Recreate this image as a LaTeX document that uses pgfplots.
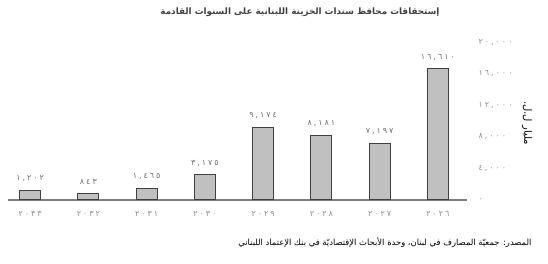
\documentclass[border=0pt]{standalone}
\usepackage{fontspec}
\usepackage{pgfplots}
\pgfplotsset{compat=1.18}
\usepackage{pgfplotstable}
\TeXXeTstate=1
\setmainfont{DejaVu Sans}
\newfontfamily\arabicfont[Script=Arabic]{DejaVu Sans}
\newfontfamily\digitfont[LetterSpace=25]{DejaVu Sans}
\definecolor{barfill}{HTML}{C0C0C0}
\definecolor{baredge}{HTML}{404040}
\definecolor{axisgray}{HTML}{808080}
\definecolor{labgray}{HTML}{707070}
\definecolor{ticklab}{HTML}{909090}

\pgfplotstableread{
x y lab
0 1202 ١,٢٠٢
1 843 ٨٤٣
2 1465 ١,٤٦٥
3 3175 ٣,١٧٥
4 9174 ٩,١٧٤
5 8181 ٨,١٨١
6 7197 ٧,١٩٧
7 16610 ١٦,٦١٠
}\datatable

\begin{document}
\begin{tikzpicture}
\useasboundingbox (0pt,0pt) rectangle (548pt,264pt);
\begin{axis}[
  at={(8pt,64pt)}, anchor=south west,
  scale only axis, width=459pt, height=158pt,
  xmin=-0.38, xmax=7.5, ymin=0, ymax=20000,
  axis x line=bottom, axis y line=right,
  x axis line style={draw=axisgray, line width=2pt, -},
  y axis line style={draw=none},
  major tick length=0pt,
  xtick={0,...,7},
  xticklabels={٢٠٣٣,٢٠٣٢,٢٠٣١,٢٠٣٠,٢٠٢٩,٢٠٢٨,٢٠٢٧,٢٠٢٦},
  ytick={0,4000,8000,12000,16000,20000},
  yticklabels={٠,{٤,٠٠٠},{٨,٠٠٠},{١٢,٠٠٠},{١٦,٠٠٠},{٢٠,٠٠٠}},
  xticklabel style={font=\digitfont\fontsize{8}{9}\selectfont, text=ticklab, yshift=-8pt},
  yticklabel style={font=\digitfont\fontsize{8}{9}\selectfont, text=ticklab, anchor=west, xshift=8pt},
  scaled y ticks=false,
  clip=false,
]
\addplot[ybar, bar width=21pt, fill=barfill, draw=baredge, line width=1pt,
  nodes near coords, point meta=explicit symbolic,
  every node near coord/.append style={font=\digitfont\fontsize{8}{9}\selectfont, text=labgray, yshift=5pt}]
  table[x=x, y=y, meta=lab] {\datatable};
\end{axis}
\node[font=\arabicfont\bfseries\fontsize{8.8}{11}\selectfont, text=black!75] at (300pt,252pt) {\beginR إستحقاقات محافظ سندات الخزينة اللبنانية على السنوات القادمة\endR};
\node[rotate=-90, font=\arabicfont\fontsize{10}{12}\selectfont] at (527pt,141pt) {\beginR مليار ل.ل.\endR};
\node[anchor=east, font=\arabicfont\fontsize{8.4}{10}\selectfont] at (535pt,21pt) {\beginR المصدر: جمعيّة المصارف في لبنان، وحدة الأبحاث الإقتصاديّة في بنك الإعتماد اللبناني\endR};
\end{tikzpicture}
\end{document}
